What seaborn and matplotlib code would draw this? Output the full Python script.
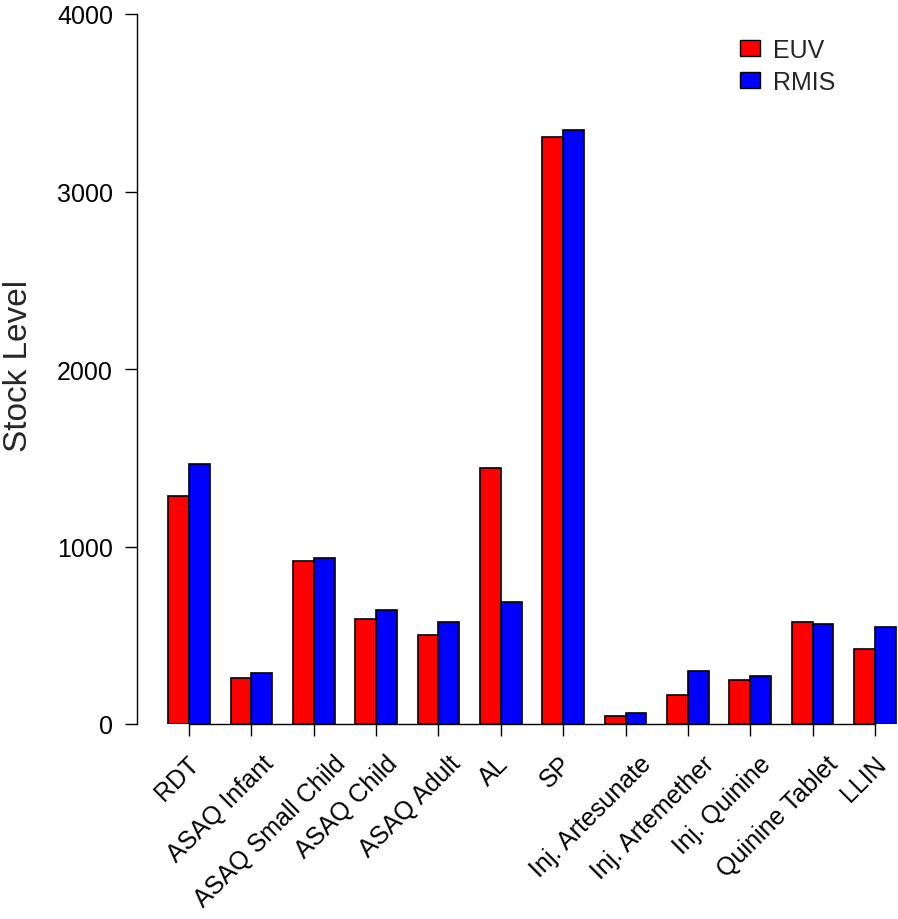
import pandas as pd
import matplotlib
matplotlib.use("Agg")
import matplotlib.pyplot as plt
import matplotlib.patches as mpatches
from matplotlib.font_manager import FontProperties
import seaborn as sns

items = ['RDT', 'ASAQ Infant', 'ASAQ Small Child', 'ASAQ Child', 'ASAQ Adult',
         'AL', 'SP', 'Inj. Artesunate', 'Inj. Artemether', 'Inj. Quinine',
         'Quinine Tablet', 'LLIN']
euv = [1282, 261, 920, 593, 499, 1444, 3305, 46, 165, 250, 575, 420]
rmis = [1463, 285, 935, 642, 573, 689, 3348, 64, 297, 268, 565, 546]
sources = ['EUV', 'RMIS']
colors = ['#FF0000', '#0000FF']

df = pd.DataFrame({
    'Item': items * 2,
    'Stock': euv + rmis,
    'Source': ['EUV'] * len(items) + ['RMIS'] * len(items),
})

sns.set_style('ticks')
plt.rcParams['font.family'] = ['Liberation Sans', 'DejaVu Sans']

W, H = 898, 920
fig = plt.figure(figsize=(W / 100, H / 100), dpi=100)
ax = fig.add_axes([137 / W, (H - 725) / H, (W - 137) / W, 710 / H])

sns.barplot(data=df, x='Item', y='Stock', hue='Source', order=items,
            hue_order=sources, palette=colors, saturation=1, width=2 / 3,
            edgecolor='black', linewidth=1.2, legend=False, ax=ax)

# x: group 0 at px 189, 62.36 px per group
ax.set_xlim((137 - 189) / 62.36, (W - 189) / 62.36)
ax.set_ylim(0, 4000)
ax.set_yticks([0, 1000, 2000, 3000, 4000])
ax.set_xlabel('')
ax.set_ylabel('')

for s in ['top', 'right']:
    ax.spines[s].set_visible(False)
ax.spines['left'].set_bounds(0, 4000)
ax.spines['bottom'].set_bounds(0, len(items) - 1)
for s in ['left', 'bottom']:
    ax.spines[s].set_linewidth(1)
    ax.spines[s].set_color('black')

ax.tick_params(axis='y', length=8.6, width=1, pad=8.6, labelsize=18, colors='black')
ax.tick_params(axis='x', length=8.6, width=1, labelsize=18, colors='black')
ax.set_xticks(range(len(items)))
ax.set_xticklabels([])

# rotated category labels, shifted a bit to the right for longer strings
fig.canvas.draw()
renderer = fig.canvas.get_renderer()
fp = FontProperties(family=['Liberation Sans', 'DejaVu Sans'], size=18)
for i, lab in enumerate(items):
    wpx = renderer.get_text_width_height_descent(lab, fp, ismath=False)[0]
    dx = (-9 + 0.14 * wpx) * 0.72
    ax.annotate(lab, xy=(i, 0), xycoords=('data', 'axes fraction'),
                xytext=(dx, -27 * 0.72), textcoords='offset points',
                rotation=45, ha='right', va='top', rotation_mode='anchor',
                fontsize=18, color='black', annotation_clip=False)

fig.text(19 / W, 1 - 366 / H, 'Stock Level', rotation=90, ha='center', va='center',
         fontsize=24)

handles = [mpatches.Patch(facecolor=c, edgecolor='black', linewidth=1, label=l)
           for c, l in zip(colors, sources)]
ax.legend(handles=handles, loc='upper left', bbox_to_anchor=(740 / W, 1 - 39 / H),
          bbox_transform=fig.transFigure, frameon=False, fontsize=18,
          handlelength=0.78, handleheight=0.62, handletextpad=0.55,
          labelspacing=0.3, borderpad=0, borderaxespad=0)

fig.savefig('out.png', dpi=100, facecolor='white')
